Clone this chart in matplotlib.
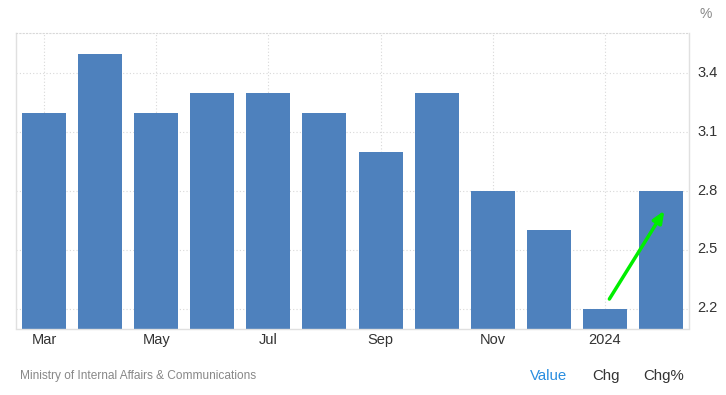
import matplotlib
matplotlib.use("Agg")
import matplotlib.pyplot as plt
from matplotlib.transforms import ScaledTranslation

plt.rcParams['font.family'] = ['Liberation Sans', 'DejaVu Sans']

months = ["Mar", "Apr", "May", "Jun", "Jul", "Aug", "Sep", "Oct", "Nov", "Dec", "2024", "Feb"]
values = [3.2, 3.5, 3.2, 3.3, 3.3, 3.2, 3.0, 3.3, 2.8, 2.6, 2.2, 2.8]
ytick_vals = [2.2, 2.5, 2.8, 3.1, 3.4]
xtick_idx = [0, 2, 4, 6, 8, 10]
arrow_start = (10.08, 2.25)
arrow_end = (11.06, 2.70)

fig = plt.figure(figsize=(7.26, 3.95), dpi=100)
ax = fig.add_axes([16/726, 66.5/395, (689-16)/726, (328.5-33)/395])

x = list(range(len(values)))
ax.bar(x, values, width=0.785, color="#4e81bd", zorder=2)

ax.set_xlim(-0.5, 11.5)
ax.set_ylim(2.1, 3.605)

ax.set_yticks(ytick_vals)
ax.set_yticklabels([f"{v:.1f}" for v in ytick_vals])
ax.yaxis.tick_right()
ax.set_xticks(xtick_idx)
ax.set_xticklabels([months[i] for i in xtick_idx])
ax.tick_params(axis='both', length=0, labelsize=10.5, colors="#333333")
ax.tick_params(axis='y', pad=6)
ax.tick_params(axis='x', pad=3)

shift = ScaledTranslation(0, 2/100, fig.dpi_scale_trans)
for lbl in ax.get_yticklabels():
    lbl.set_transform(lbl.get_transform() + shift)

ax.grid(True, linestyle=(0, (1, 2)), color="#d8d8d8", linewidth=0.8, zorder=0)
ax.set_axisbelow(True)

ax.spines["top"].set_linestyle((0, (1, 2)))
ax.spines["top"].set_color("#d8d8d8")
ax.spines["top"].set_linewidth(0.8)
for s in ["left", "right", "bottom"]:
    ax.spines[s].set_color("#e0e0e0")
    ax.spines[s].set_linewidth(1.0)

ax.annotate("", xy=arrow_end, xytext=arrow_start,
            arrowprops=dict(arrowstyle="-|>,head_length=0.7,head_width=0.3",
                            color="#00ee00", lw=2.5, shrinkA=0, shrinkB=0),
            zorder=5)

fig.text(706/726, 1 - 14/395, "%", ha="center", va="center", fontsize=10, color="#888888")
fig.text(20/726, 1 - 376/395, "Ministry of Internal Affairs & Communications",
         ha="left", va="center", fontsize=8.6, color="#888888")
fig.text(549/726, 1 - 376/395, "Value", ha="center", va="center", fontsize=10.8, color="#2a8ee0")
fig.text(606/726, 1 - 376/395, "Chg", ha="center", va="center", fontsize=10.8, color="#333333")
fig.text(664/726, 1 - 376/395, "Chg%", ha="center", va="center", fontsize=10.8, color="#333333")

fig.savefig("out.png", dpi=100)
